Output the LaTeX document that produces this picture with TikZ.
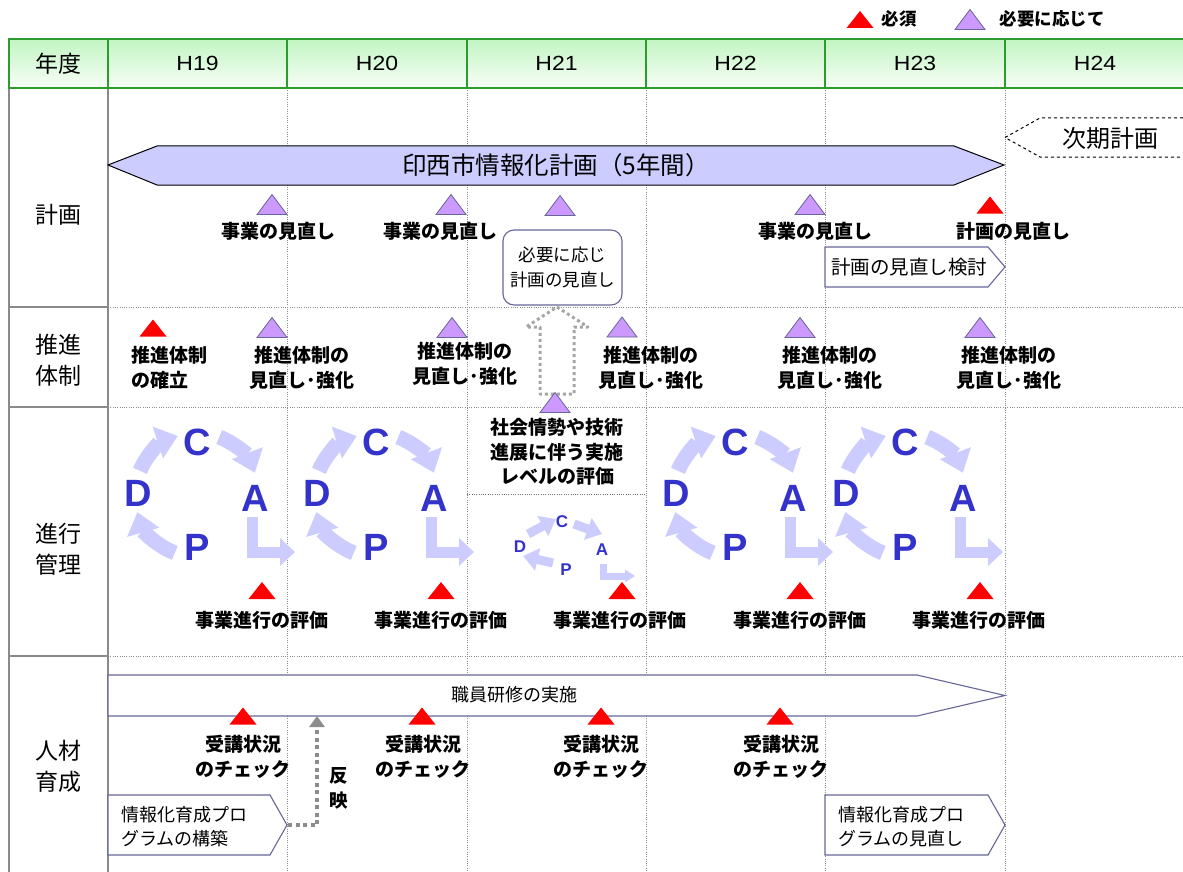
\documentclass[tikz,border=0pt]{standalone}
\usepackage{fontspec}
\setmainfont{Liberation Sans}
\newfontfamily\jp{Noto Sans CJK JP}
\newfontfamily\hlat[FakeStretch=1.12]{Liberation Sans}
\usetikzlibrary{arrows.meta,calc}
\definecolor{hdrgreen}{HTML}{2E9B2E}
\definecolor{hdrfill}{HTML}{C2F5C2}
\definecolor{gridgray}{HTML}{8C8C8C}
\definecolor{leftgray}{HTML}{8A8A8A}
\definecolor{bannerfill}{HTML}{CCCCFF}
\definecolor{purpfill}{HTML}{CC99FF}
\definecolor{purpedge}{HTML}{666699}
\definecolor{cycfill}{HTML}{CCCCFF}
\definecolor{cycletter}{HTML}{3333CC}
\definecolor{arrowgray}{HTML}{8C8C8C}
\definecolor{hollowgray}{HTML}{A6A6A6}
\newcommand\labfont{\jp\bfseries\fontsize{19}{24.5}\selectfont}
\newcommand\legfont{\jp\bfseries\fontsize{17.5}{20}\selectfont}
\newcommand\rowfont{\jp\fontsize{23}{31}\selectfont}
\newcommand\boxfont{\jp\fontsize{18}{23.5}\selectfont}
\newcommand\hfont{\hlat\fontsize{20.5}{24}\selectfont}
\newcommand\pdcacycle[3]{%
 \begin{scope}[shift={(#2,#3)}]
  \draw[cyc,-{Triangle[width=32pt,length=21pt]}] (157:62pt) arc[start angle=157,end angle=108,radius=62pt];
  \draw[cyc,-{Triangle[width=32pt,length=21pt]}] (69:62pt) arc[start angle=69,end angle=21,radius=62pt];
  \draw[cyc,-{Triangle[width=32pt,length=21pt]}] (-111:62pt) arc[start angle=-111,end angle=-164,radius=62pt];
  \draw[cycL,-{Triangle[width=27pt,length=15pt]}] (55.5,22) -- (55.5,57) -- (98,57);
  \node[pdcal] (#1C) at (0,-53) {C};
  \node[pdcal] (#1D) at (-59,-2) {D};
  \node[pdcal] (#1A) at (58,3) {A};
  \node[pdcal] (#1P) at (0,52) {P};
 \end{scope}}
\tikzset{
 redtri/.pic={\fill[red] (-13.5,8.5) -- (13.5,8.5) -- (0,-8.5) -- cycle;},
 purtri/.pic={\filldraw[fill=purpfill,draw=purpedge,line width=0.8pt] (-15,10) -- (15,10) -- (0,-10) -- cycle;},
 hdrcell/.style={draw=hdrgreen,line width=1.6pt,top color=hdrfill,bottom color=white!88!hdrfill,inner sep=0pt,minimum height=49pt,font=\hfont},
 rowlab/.style={align=center,font=\rowfont,inner sep=0pt},
 lab/.style={align=center,font=\labfont,inner sep=0pt},
 boxtxt/.style={font=\boxfont,inner sep=0pt},
 griddot/.style={gridgray,line width=0.8pt,dash pattern=on 1pt off 1.3pt},
 leftline/.style={leftgray,line width=1.4pt},
 cyc/.style={cycfill,line width=15pt},
 cycL/.style={cycfill,line width=11pt,line join=miter},
 cycs/.style={cycfill,line width=9pt},
 pdcal/.style={text=cycletter,font=\fontsize{38}{38}\selectfont\bfseries,inner sep=0pt},
 pdcas/.style={text=cycletter,font=\fontsize{17}{17}\selectfont\bfseries,inner sep=0pt},
 penta/.style={draw=purpedge,line width=1.1pt,fill=white},
}
\begin{document}
\begin{tikzpicture}[x=1pt,y=-1pt]
\useasboundingbox[fill=white] (0,0) rectangle (1183,872);
% grid
\foreach \gx in {287,467,646,825,1005} \draw[griddot] (\gx,88) -- (\gx,872);
\foreach \gy in {307,407,656} \draw[griddot] (108,\gy) -- (1183,\gy);
\draw[gridgray!80!black,line width=0.8pt,dash pattern=on 1pt off 1.3pt] (467,494) -- (646,494);
% left column
\draw[leftline] (9,88) -- (9,872);
\draw[leftline] (108,88) -- (108,872);
\foreach \gy in {307,407,656} \draw[leftline] (9,\gy) -- (108,\gy);
% header
\node[hdrcell,minimum width=99pt] (h0) at (58.5,63.5) {\jp\fontsize{23}{26}\selectfont 年度};
\node[hdrcell,minimum width=179pt] (h1) at (197.5,63.5) {H19};
\node[hdrcell,minimum width=180pt] (h2) at (377,63.5) {H20};
\node[hdrcell,minimum width=179pt] (h3) at (556.5,63.5) {H21};
\node[hdrcell,minimum width=179pt] (h4) at (735.5,63.5) {H22};
\node[hdrcell,minimum width=180pt] (h5) at (915,63.5) {H23};
\node[hdrcell,minimum width=180pt] (h6) at (1095,63.5) {H24};
% legend
\pic at (860,19.5) {redtri};
\node[inner sep=0pt,font=\legfont] (legr) at (899,19) {必須};
\pic at (970,19.5) {purtri};
\node[inner sep=0pt,font=\legfont] (legp) at (1052,19) {必要に応じて};
% row labels
\node[rowlab] (r1) at (58.5,215) {計画};
\node[rowlab] (r2) at (58.5,360) {推進\\体制};
\node[rowlab] (r3) at (58.5,549) {進行\\管理};
\node[rowlab] (r4) at (58.5,766) {人材\\育成};
% ---- row 1
\filldraw[fill=bannerfill,draw=black,line width=1pt] (108,165) -- (157,146) -- (954,146) -- (1004,165) -- (954,185) -- (157,185) -- cycle;
\node[inner sep=0pt,font=\jp\fontsize{24.5}{26}\selectfont] (banner) at (556,165) {印西市情報化計画（5年間）};
\draw[black,line width=1pt,dashed] (1183,118) -- (1040,118) -- (1005,137.5) -- (1040,157) -- (1183,157);
\node[inner sep=0pt,font=\jp\fontsize{24}{26}\selectfont] (jiki) at (1110,138) {次期計画};
\pic at (272,204.5) {purtri};
\pic at (451,204.5) {purtri};
\pic at (560,205.5) {purtri};
\pic at (810,204.5) {purtri};
\pic at (990,205) {redtri};
\node[lab] (m1) at (278,231) {事業の見直し};
\node[lab] (m2) at (440,231) {事業の見直し};
\node[lab] (m3) at (815,231) {事業の見直し};
\node[lab] (m4) at (1013,231) {計画の見直し};
\node[draw=purpedge,line width=1.1pt,rounded corners=11pt,minimum width=119pt,minimum height=75pt,align=center,font=\jp\fontsize{17.5}{24.5}\selectfont,inner sep=0pt,fill=white] (need) at (562.5,267.5) {必要に応じ\\計画の見直し};
\draw[penta] (825,247) -- (988,247) -- (1005,267) -- (988,287) -- (825,287) -- cycle;
\node[boxtxt,anchor=west,font=\jp\fontsize{19.5}{22}\selectfont] (kento) at (831,267) {計画の見直し検討};
% ---- row 2
\pic at (153,328) {redtri};
\pic at (272,327.5) {purtri};
\pic at (452,327.5) {purtri};
\pic at (622,327) {purtri};
\pic at (800,327.5) {purtri};
\pic at (980,327.5) {purtri};
\node[lab,align=left,anchor=west] (s1) at (131,368) {推進体制\\の確立};
\node[lab] (s2) at (302,368) {推進体制の\\見直し･強化};
\node[lab] (s3) at (465,364) {推進体制の\\見直し･強化};
\node[lab] (s4) at (651,368) {推進体制の\\見直し･強化};
\node[lab] (s5) at (830,368) {推進体制の\\見直し･強化};
\node[lab] (s6) at (1009,368) {推進体制の\\見直し･強化};
% hollow dotted arrow
\draw[hollowgray,line width=3pt,dash pattern=on 3pt off 3pt,line join=round] (557,307) -- (588,327) -- (574,327) -- (574,394) -- (540,394) -- (540,327) -- (526,327) -- cycle;
\pic at (555,402.5) {purtri};
% ---- row 3
\node[lab] (shakai) at (557,452) {社会情勢や技術\\進展に伴う実施\\レベルの評価};
\pdcacycle{a}{197}{495}
\pdcacycle{b}{376}{495}
\pdcacycle{d}{735}{495}
\pdcacycle{e}{905}{495}
% small cycle
\draw[cycs,-{Triangle[width=22pt,length=15pt]}] (528,534) -- (556,519);
\draw[cycs,-{Triangle[width=22pt,length=15pt]}] (574,524) -- (602,534);
\draw[cycs,-{Triangle[width=22pt,length=15pt]}] (553,563) -- (523,556);
\draw[cycfill,line width=7pt,line join=miter,-{Triangle[width=12pt,length=10pt]}] (603,564) -- (603,576) -- (635,576);
\node[pdcas] (cC) at (562,522) {C};
\node[pdcas] (cD) at (520,547) {D};
\node[pdcas] (cA) at (602,550) {A};
\node[pdcas] (cP) at (566,570) {P};
\foreach \tx in {262,441,622,800,980} \pic at (\tx,590.5) {redtri};
\node[lab] (e1) at (262,620) {事業進行の評価};
\node[lab] (e2) at (441,620) {事業進行の評価};
\node[lab] (e3) at (620,620) {事業進行の評価};
\node[lab] (e4) at (800,620) {事業進行の評価};
\node[lab] (e5) at (979,620) {事業進行の評価};
% ---- row 4
\draw[penta] (108,675) -- (917,675) -- (1005,695.5) -- (917,716) -- (108,716) -- cycle;
\node[boxtxt] (kenshu) at (514,695) {職員研修の実施};
\coordinate (kenshuB) at (317,716);
\foreach \tx in {243,422,601,780} \pic at (\tx,716) {redtri};
\node[lab] (c1) at (243,757) {受講状況\\のチェック};
\node[lab] (c2) at (423,757) {受講状況\\のチェック};
\node[lab] (c3) at (601,757) {受講状況\\のチェック};
\node[lab] (c4) at (781,757) {受講状況\\のチェック};
\draw[penta] (108,795) -- (270,795) -- (287,825) -- (270,855) -- (108,855) -- cycle;
\coordinate (pgtip) at (288,825);
\node[boxtxt,anchor=west,align=left] (pg1) at (121,826.5) {情報化育成プロ\\グラムの構築};
\draw[penta] (825,795) -- (988,795) -- (1005,825) -- (988,855) -- (825,855) -- cycle;
\node[boxtxt,anchor=west,align=left] (pg2) at (838,826.5) {情報化育成プロ\\グラムの見直し};
\draw[arrowgray,line width=4pt,dash pattern=on 4pt off 3.5pt,-{Triangle[width=15pt,length=11pt]}] (pgtip) -| (kenshuB);
\node[lab,font=\jp\bfseries\fontsize{18.5}{25}\selectfont] (hanei) at (339,788) {反\\映};
\end{tikzpicture}
\end{document}
